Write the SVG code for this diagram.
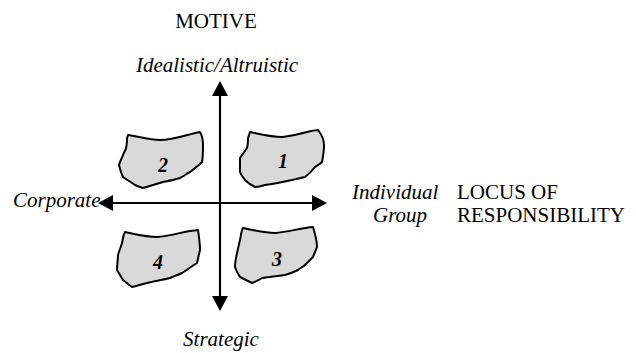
<svg xmlns="http://www.w3.org/2000/svg" width="636" height="353" viewBox="0 0 636 353">
<style>
.t{font-family:"Liberation Serif","Times New Roman",serif;font-size:21px;fill:#000}
.i{font-style:italic}
.blob{fill:#d9d9d9;stroke:#000;stroke-width:2;stroke-linejoin:round}
.num{font-family:"Liberation Serif","Times New Roman",serif;font-size:20px;font-style:italic;font-weight:bold;text-anchor:middle}
.ax{stroke:#000;stroke-width:2.2;fill:none}
</style>
<defs>
<marker id="ah" viewBox="0 0 15 16" refX="0" refY="8" markerWidth="15" markerHeight="16" markerUnits="userSpaceOnUse" orient="auto">
<path d="M0,0 L15,8 L0,16 Z" fill="#000"/>
</marker>
</defs>
<g id="connectors">
<line class="ax" x1="220" y1="203" x2="220" y2="96" marker-end="url(#ah)"/>
<line class="ax" x1="220" y1="203" x2="220" y2="296" marker-end="url(#ah)"/>
<line class="ax" x1="220" y1="203" x2="113" y2="203" marker-end="url(#ah)"/>
<line class="ax" x1="220" y1="203" x2="312" y2="203" marker-end="url(#ah)"/>
</g>
<g id="blob2">
<path class="blob" d="M128,135 C140,137 150,140 160,140 C175,140 188,134 200,132 C203,137 203,141 203,145 C203,152 203,157 202,162 C198,166 194,169 190,172 C186,174 184,176 180,178 C174,180 168,181 163,182 C156,184 150,186 143,188 C140,187 137,186 135,185 C131,182 127,180 123,177 C121,173 120,169 119,165 C120,161 122,158 123,155 C124,152 126,150 126,148 C127,145 127,141 127,138 Z"/>
<text class="num" x="163" y="172">2</text>
</g>
<g id="blob1">
<path class="blob" d="M250,132 C260,134 272,137 282,137 C295,136 307,131 318,130 C322,135 324,140 324,145 C324,151 323,157 322,162 C320,164 318,165 315,167 C312,171 309,174 305,177 C301,178 296,179 292,180 C283,182 274,184 265,185 C262,186 258,187 255,187 C251,185 248,183 245,180 C243,177 241,175 240,172 C240,167 240,163 240,158 C242,155 245,151 247,148 C248,145 248,141 248,138 Z"/>
<text class="num" x="283" y="168">1</text>
</g>
<g id="blob4">
<path class="blob" d="M125,232 C135,234 147,237 157,237 C171,236 185,231 198,230 C199,237 200,243 200,250 C199,254 198,259 197,263 C192,266 187,270 182,273 C178,275 174,276 170,278 C162,280 155,281 147,283 C142,284 137,286 132,287 C129,285 126,282 123,280 C121,277 119,273 117,270 C117,265 118,260 118,255 C119,251 121,247 122,243 C123,239 123,235 125,232 Z"/>
<text class="num" x="158" y="269">4</text>
</g>
<g id="blob3">
<path class="blob" d="M243,228 C253,230 265,233 275,233 C288,232 301,228 313,227 C315,234 317,240 317,247 C316,250 314,254 313,257 C310,260 308,262 305,265 C303,267 300,268 298,270 C294,272 289,274 285,275 C277,276 270,277 262,278 C259,280 255,282 252,283 C248,281 244,279 240,277 C238,274 236,270 235,267 C235,262 236,258 237,253 C238,249 239,244 240,240 C241,236 241,231 243,228 Z"/>
<text class="num" x="277" y="266">3</text>
</g>
<g id="labels">
<text class="t" x="216" y="28" text-anchor="middle">MOTIVE</text>
<text class="t i" x="217" y="72" text-anchor="middle">Idealistic/Altruistic</text>
<text class="t i" x="13" y="207">Corporate</text>
<text class="t i" x="352" y="199">Individual</text>
<text class="t i" x="373" y="222">Group</text>
<text class="t" x="457" y="199">LOCUS OF</text>
<text class="t" x="457" y="222">RESPONSIBILITY</text>
<text class="t i" x="221" y="346" text-anchor="middle">Strategic</text>
</g>
</svg>
